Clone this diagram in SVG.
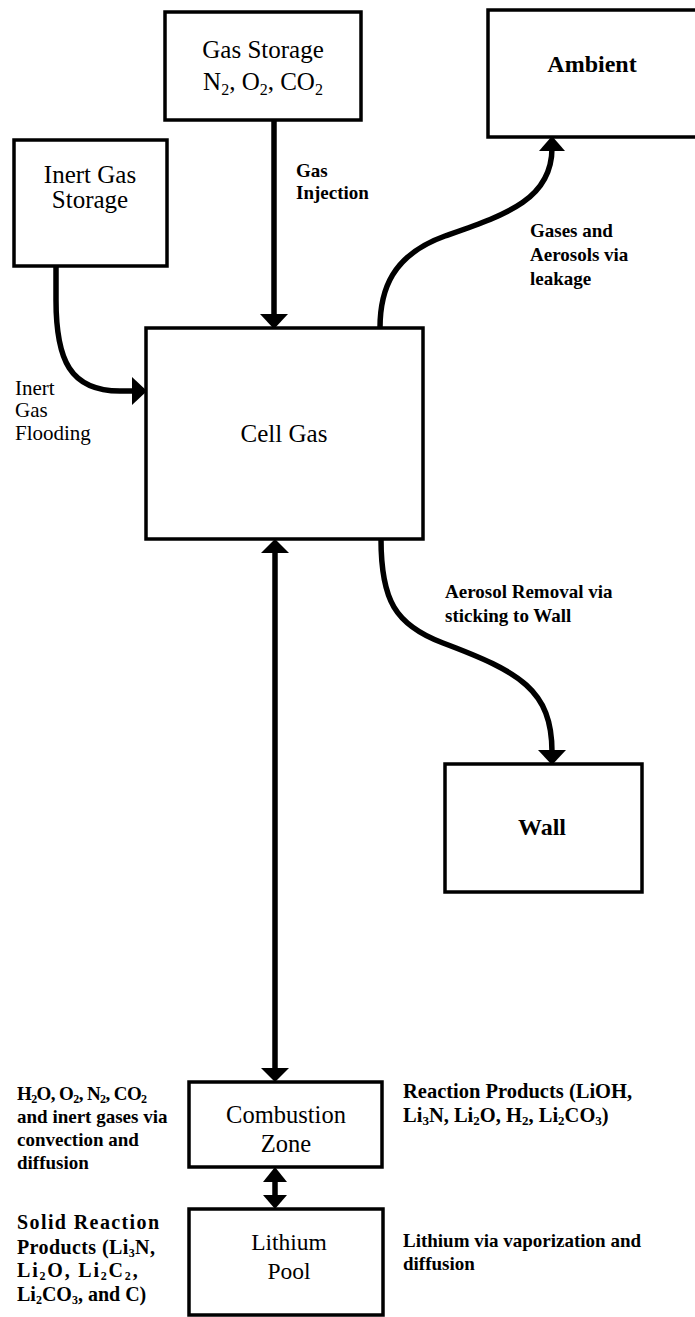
<svg xmlns="http://www.w3.org/2000/svg" width="695" height="1317" viewBox="0 0 695 1317">
<style>
.box{fill:#fff;stroke:#000;stroke-width:3.5}
.n{font-family:"Liberation Serif","Times New Roman",serif;font-size:25px;fill:#000;text-anchor:middle}
.nb{font-family:"Liberation Serif","Times New Roman",serif;font-size:24px;font-weight:bold;fill:#000;text-anchor:middle}
.lb{font-family:"Liberation Serif","Times New Roman",serif;font-size:19px;font-weight:bold;fill:#000}
.ln{fill:none;stroke:#000;stroke-width:5.5}
.ah{fill:#000;stroke:none}
</style>
<rect width="695" height="1317" fill="#fff"/>
<g id="connectors">
  <line class="ln" x1="274" y1="120" x2="274" y2="316"/>
  <polygon class="ah" points="260,314 288,314 274,329"/>
  <path class="ln" d="M56,267 L56,300 C56,360 70,391 120,391 L134,391"/>
  <polygon class="ah" points="132,377 132,405 147,391"/>
  <path class="ln" d="M380,328 C380,290 392,255 445,236 C505,215 552,200 552,148"/>
  <polygon class="ah" points="539,151 565,151 552,136"/>
  <path class="ln" d="M381,539 C381,600 395,625 443,643 C520,672 552,690 552,752"/>
  <polygon class="ah" points="538,750 566,750 552,765"/>
  <line class="ln" x1="275" y1="550" x2="275" y2="1070"/>
  <polygon class="ah" points="261,553 289,553 275,539"/>
  <polygon class="ah" points="261,1068 289,1068 275,1082"/>
  <line class="ln" x1="275" y1="1178" x2="275" y2="1199"/>
  <polygon class="ah" points="263,1182 287,1182 275,1167"/>
  <polygon class="ah" points="263,1195 287,1195 275,1209"/>
</g>
<g id="gas-storage">
  <rect class="box" x="165" y="12" width="196" height="108"/>
  <text class="n" x="263" y="58">Gas Storage</text>
  <text class="n" x="263" y="90">N<tspan font-size="16" dy="5">2</tspan><tspan dy="-5">, O</tspan><tspan font-size="16" dy="5">2</tspan><tspan dy="-5">, CO</tspan><tspan font-size="16" dy="5">2</tspan></text>
</g>
<g id="ambient">
  <rect class="box" x="488" y="10" width="215" height="127"/>
  <text class="nb" x="592" y="72">Ambient</text>
</g>
<g id="inert-gas-storage">
  <rect class="box" x="14" y="140" width="153" height="126"/>
  <text class="n" x="90" y="183">Inert Gas</text>
  <text class="n" x="90" y="208">Storage</text>
</g>
<g id="cell-gas">
  <rect class="box" x="146" y="328" width="277" height="211"/>
  <text class="n" x="284" y="442">Cell Gas</text>
</g>
<g id="wall">
  <rect class="box" x="445" y="764" width="197" height="128"/>
  <text class="nb" x="542" y="835">Wall</text>
</g>
<g id="combustion-zone">
  <rect class="box" x="189" y="1082" width="193" height="85"/>
  <text class="n" x="286" y="1123" style="font-size:24.5px">Combustion</text>
  <text class="n" x="286" y="1152" style="font-size:24.5px">Zone</text>
</g>
<g id="lithium-pool">
  <rect class="box" x="189" y="1209" width="194" height="106"/>
  <text class="n" x="289" y="1250" style="font-size:23.5px">Lithium</text>
  <text class="n" x="289" y="1279" style="font-size:23.5px">Pool</text>
</g>
<g id="labels">
  <text class="lb" x="296" y="177">Gas</text>
  <text class="lb" x="296" y="199">Injection</text>
  <text class="lb" x="530" y="237">Gases and</text>
  <text class="lb" x="530" y="261">Aerosols via</text>
  <text class="lb" x="530" y="285">leakage</text>
  <text class="lb" x="15" y="395" style="font-weight:normal;font-size:21px">Inert</text>
  <text class="lb" x="15" y="417" style="font-weight:normal;font-size:21px">Gas</text>
  <text class="lb" x="15" y="440" style="font-weight:normal;font-size:21px">Flooding</text>
  <text class="lb" x="445" y="598">Aerosol Removal via</text>
  <text class="lb" x="445" y="622">sticking to Wall</text>
  <text class="lb" x="17" y="1100" style="letter-spacing:-0.6px">H<tspan font-size="12" dy="3">2</tspan><tspan dy="-3">O, O</tspan><tspan font-size="12" dy="3">2</tspan><tspan dy="-3">, N</tspan><tspan font-size="12" dy="3">2</tspan><tspan dy="-3">, CO</tspan><tspan font-size="12" dy="3">2</tspan></text>
  <text class="lb" x="17" y="1123">and inert gases via</text>
  <text class="lb" x="17" y="1146">convection and</text>
  <text class="lb" x="17" y="1169">diffusion</text>
  <text class="lb" x="17" y="1229" style="font-size:20px;letter-spacing:1.4px">Solid Reaction</text>
  <text class="lb" x="17" y="1254" style="font-size:20px;letter-spacing:0.4px">Products (Li<tspan font-size="12" dy="3">3</tspan><tspan dy="-3">N,</tspan></text>
  <text class="lb" x="17" y="1277" style="font-size:20px;letter-spacing:1.8px">Li<tspan font-size="12" dy="3">2</tspan><tspan dy="-3">O, Li</tspan><tspan font-size="12" dy="3">2</tspan><tspan dy="-3">C</tspan><tspan font-size="12" dy="3">2</tspan><tspan dy="-3">,</tspan></text>
  <text class="lb" x="17" y="1301" style="font-size:20px">Li<tspan font-size="12" dy="3">2</tspan><tspan dy="-3">CO</tspan><tspan font-size="12" dy="3">3</tspan><tspan dy="-3">, and C)</tspan></text>
  <text class="lb" x="403" y="1098" style="font-size:20.5px">Reaction Products (LiOH,</text>
  <text class="lb" x="403" y="1122" style="font-size:20.5px">Li<tspan font-size="13" dy="3">3</tspan><tspan dy="-3">N, Li</tspan><tspan font-size="13" dy="3">2</tspan><tspan dy="-3">O, H</tspan><tspan font-size="13" dy="3">2</tspan><tspan dy="-3">, Li</tspan><tspan font-size="13" dy="3">2</tspan><tspan dy="-3">CO</tspan><tspan font-size="13" dy="3">3</tspan><tspan dy="-3">)</tspan></text>
  <text class="lb" x="403" y="1247">Lithium via vaporization and</text>
  <text class="lb" x="403" y="1270">diffusion</text>
</g>
</svg>
